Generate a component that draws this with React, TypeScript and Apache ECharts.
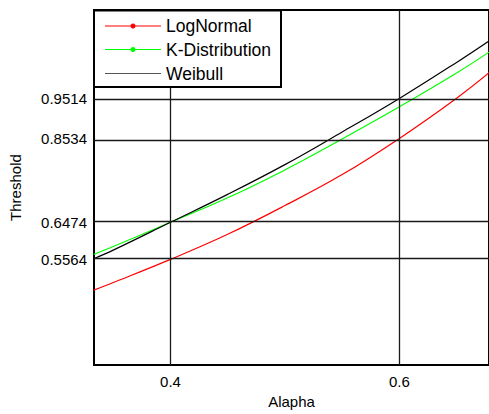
import React, { useEffect, useRef } from "react";
import * as echarts from "echarts";

const alpha = [0.333, 0.35, 0.4, 0.45, 0.5, 0.55, 0.6, 0.65, 0.679];
const logNormal = [0.481, 0.4995, 0.5564, 0.618, 0.6885, 0.7645, 0.8534, 0.952, 1.016];
const kDistribution = [0.5687, 0.588, 0.6474, 0.7075, 0.776, 0.852, 0.931, 1.014, 1.0665];
const weibull = [0.558, 0.579, 0.6474, 0.716, 0.789, 0.869, 0.9514, 1.04, 1.094];

const xTicks = [0.4, 0.6];
const yTicks = [0.5564, 0.6474, 0.8534, 0.9514];

const seriesNames = ["LogNormal", "K-Distribution", "Weibull"];
const seriesColors = ["#ff0000", "#00ff00", "#000000"];

const FONT = "'Liberation Sans', Arial, sans-serif";

export default function App() {
  const ref = useRef<HTMLDivElement>(null);
  useEffect(() => {
    if (!ref.current) return;
    const chart = echarts.init(ref.current, null, { renderer: "svg" });
    const values = [logNormal, kDistribution, weibull];
    const series: any[] = values.map((v, i) => ({
      name: seriesNames[i],
      type: "line",
      data: alpha.map((a, j) => [a, v[j]]),
      smooth: 0.4,
      showSymbol: false,
      symbol: "none",
      lineStyle: { color: seriesColors[i], width: 1.2 },
      itemStyle: { color: seriesColors[i] },
      z: 3,
    }));
    series.push({
      type: "line",
      data: [],
      silent: true,
      z: 1,
      markLine: {
        silent: true,
        symbol: ["none", "none"],
        label: { show: false },
        lineStyle: { color: "#1a1a1a", width: 1.3, type: "solid" },
        data: [
          ...xTicks.map((x) => ({ xAxis: x })),
          ...yTicks.map((y) => ({ yAxis: y })),
        ],
      },
    });

    const legendRows = [26, 49.5, 73.5];
    const graphics: any[] = [
      {
        type: "rect",
        shape: { x: 94, y: 10.5, width: 187, height: 76.5 },
        style: { fill: "#ffffff", stroke: "#000000", lineWidth: 2 },
        z: 100,
      },
    ];
    legendRows.forEach((y, i) => {
      graphics.push({
        type: "line",
        shape: { x1: 105, y1: y, x2: 161, y2: y },
        style: { stroke: i === 2 ? "#555555" : seriesColors[i], lineWidth: 1.2 },
        z: 101,
      });
      if (i < 2) {
        graphics.push({
          type: "circle",
          shape: { cx: 133, cy: y, r: 2.5 },
          style: { fill: seriesColors[i] },
          z: 102,
        });
      }
      graphics.push({
        type: "text",
        x: 166,
        y: y,
        style: {
          text: seriesNames[i],
          fill: "#000000",
          font: `17.5px ${FONT}`,
          verticalAlign: "middle",
          align: "left",
        },
        z: 102,
      });
    });

    chart.setOption({
      animation: false,
      backgroundColor: "#ffffff",
      grid: {
        left: 94,
        top: 10,
        right: -3,
        bottom: 48,
        show: true,
        borderColor: "#000000",
        borderWidth: 2,
        backgroundColor: "transparent",
      },
      xAxis: {
        type: "value",
        min: 0.3332,
        max: 0.6783,
        name: "Alapha",
        nameLocation: "middle",
        nameGap: 28,
        nameTextStyle: { fontFamily: FONT, fontSize: 15, color: "#000" },
        axisLine: { show: false },
        axisTick: { show: false },
        splitLine: { show: false },
        axisLabel: {
          customValues: xTicks,
          formatter: (v: number) => v.toFixed(1),
          fontFamily: FONT,
          fontSize: 15,
          color: "#000",
          margin: 9,
        },
      },
      yAxis: {
        type: "value",
        min: 0.2968,
        max: 1.1686,
        name: "Threshold",
        nameLocation: "middle",
        nameGap: 71,
        nameRotate: 90,
        nameTextStyle: { fontFamily: FONT, fontSize: 15, color: "#000" },
        axisLine: { show: false },
        axisTick: { show: false },
        splitLine: { show: false },
        axisLabel: {
          customValues: yTicks,
          formatter: (v: number) => v.toFixed(4),
          fontFamily: FONT,
          fontSize: 15,
          color: "#000",
          margin: 7,
        },
      },
      series,
      graphic: graphics,
    });
    return () => chart.dispose();
  }, []);
  return <div ref={ref} style={{ width: 489, height: 414, position: "absolute", left: 0, top: 0 }} />;
}
